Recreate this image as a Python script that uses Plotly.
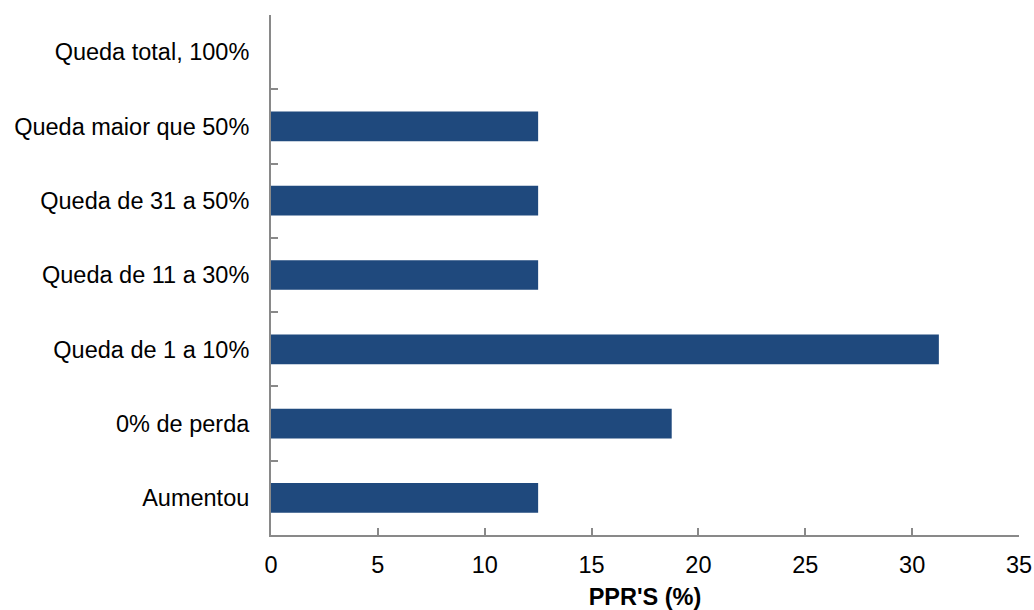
import plotly.graph_objects as go

# Loss categories (bottom to top) and share of PPRs in each, in percent
categories = [
    "Aumentou",
    "0% de perda",
    "Queda de 1 a 10%",
    "Queda de 11 a 30%",
    "Queda de 31 a 50%",
    "Queda maior que 50%",
    "Queda total, 100%",
]
shares = [12.5, 18.75, 31.25, 12.5, 12.5, 12.5, 0]

x_ticks = [0, 5, 10, 15, 20, 25, 30, 35]

AXIS_GREY = "#898989"
BAR_BLUE = "#1f497d"
FONT = "Liberation Sans, Arial, sans-serif"
FS = 23.5

fig = go.Figure(
    go.Bar(
        x=shares,
        y=categories,
        orientation="h",
        width=0.4,
        marker=dict(color=BAR_BLUE, line=dict(width=0)),
    )
)

fig.update_layout(
    width=1034,
    height=610,
    margin=dict(l=271, r=15, t=15, b=75, autoexpand=False),
    paper_bgcolor="white",
    plot_bgcolor="white",
    showlegend=False,
    font=dict(family=FONT, size=FS, color="black"),
)

fig.update_xaxes(
    range=[0, 35],
    tickvals=x_ticks,
    ticktext=[str(v) for v in x_ticks],
    ticks="inside",
    ticklen=7,
    tickwidth=1.5,
    tickcolor=AXIS_GREY,
    showline=True,
    linecolor=AXIS_GREY,
    linewidth=2,
    showgrid=False,
    zeroline=False,
    automargin=False,
    tickfont=dict(size=FS),
    ticklabelstandoff=8,
    title=dict(text="<b>PPR'S (%)</b>", font=dict(size=FS), standoff=12),
)

fig.update_yaxes(
    type="category",
    categoryorder="array",
    categoryarray=categories,
    range=[-0.5, 6.5],
    tickson="boundaries",
    ticks="inside",
    ticklen=7,
    tickwidth=1.5,
    tickcolor=AXIS_GREY,
    showline=True,
    linecolor=AXIS_GREY,
    linewidth=2,
    showgrid=False,
    zeroline=False,
    automargin=False,
    tickfont=dict(size=FS),
    ticklabelstandoff=15,
)

fig.write_html("out.html")
